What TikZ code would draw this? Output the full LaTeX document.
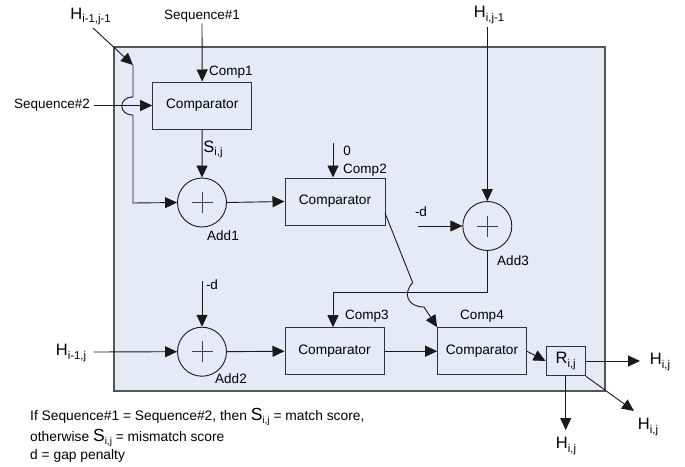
\documentclass[tikz,border=0pt]{standalone}
\usepackage{fontspec}
\setmainfont{Liberation Sans}
\usetikzlibrary{arrows.meta,calc}
\newcommand{\bigsub}[2]{{\fontsize{16.5}{18}\selectfont #1}\raisebox{-3.5pt}{\fontsize{11.3}{12}\selectfont #2}}
\newcommand{\midsub}[2]{{\fontsize{17.5}{18}\selectfont #1}\raisebox{-3pt}{\fontsize{10}{10.5}\selectfont #2}}
\definecolor{panelfill}{HTML}{E4EAF6}
\definecolor{panelline}{HTML}{555555}
\definecolor{boxline}{HTML}{333333}
\tikzset{
  sig/.style={draw=black!90,line width=0.9pt,-{Triangle[length=12pt,width=11pt]}},
  wire/.style={draw=black!90,line width=0.9pt},
  compbox/.style={draw=boxline,line width=1pt,fill=panelfill,minimum width=#1,minimum height=47pt,inner sep=0pt,font=\fontsize{13.7}{15}\selectfont},
  adder/.style={draw=black!90,line width=0.9pt,circle,minimum size=49pt,inner sep=0pt,
    path picture={\draw[black!75,line width=0.8pt] (path picture bounding box.center) +(-10.5pt,0) -- +(10.5pt,0) +(0,-10.5pt) -- +(0,10.5pt);}},
  tag/.style={inner sep=1pt,font=\fontsize{13.5}{15}\selectfont},
  notetag/.style={inner sep=0pt,anchor=west,font=\fontsize{13.8}{15}\selectfont}
}
\begin{document}
\begin{tikzpicture}[x=1pt,y=-1pt]
    \useasboundingbox (0,0) rectangle (685,466);
    \draw[panelline,line width=1.1pt,fill=panelfill] (114,47) rectangle (605,391);

    % blocks
    \node[compbox=99pt] (comp1) at (202.2,105.5) {Comparator};
    \node[compbox=100pt] (comp2) at (335,201.5) {Comparator};
    \node[compbox=99pt] (comp3) at (334.5,351.2) {Comparator};
    \node[compbox=88.6pt] (comp4) at (482,351.2) {Comparator};
    \node[draw=boxline,line width=1pt,fill=panelfill,minimum width=39.3pt,minimum height=29.4pt,inner sep=0pt] (rij) at (565.7,361) {\bigsub{R}{i,j}};
    \node[adder] (add1) at (202,202.5) {};
    \node[adder] (add2) at (202,351.7) {};
    \node[adder] (add3) at (487.3,226) {};

    % outside labels
    \node[tag] (seq1) at (202,16) {Sequence\#1};
    \node[tag] (seq2) at (52,105.5) {Sequence\#2};
    \node[inner sep=0pt] (hdiag) at (90.5,16.5) {\bigsub{H}{i-1,j-1}};
    \node[inner sep=0pt] (hleft) at (71,353) {\bigsub{H}{i-1,j}};
    \node[inner sep=0pt] (htop) at (489,15) {\bigsub{H}{i,j-1}};
    \node[inner sep=0pt] (hright) at (660,362) {\bigsub{H}{i,j}};
    \node[inner sep=0pt] (hdown) at (566,446) {\bigsub{H}{i,j}};
    \node[inner sep=0pt] (hcorner) at (648,427) {\bigsub{H}{i,j}};

    % block names
    \node[tag] (name1) at (231,72) {Comp1};
    \node[tag] (name2) at (365,170) {Comp2};
    \node[tag] (name3) at (367,316.5) {Comp3};
    \node[tag] (name4) at (482,316.5) {Comp4};
    \node[tag] (sum1) at (223,236) {Add1};
    \node[tag] (sum2) at (231,379) {Add2};
    \node[tag] (sum3) at (513,261) {Add3};
    \node[tag] (zero) at (347,151) {0};
    \node[tag] (gapa) at (212,285) {-d};
    \node[tag] (gapb) at (421,212) {-d};
    \node[inner sep=0pt] (score) at (213,149.5) {\bigsub{S}{i,j}};

    % free ends and bends
    \coordinate (hstart) at (93,28);
    \coordinate (hbend) at (133,65);
    \coordinate (jumpa) at (133,97);
    \coordinate (jumpb) at (133,115);
    \coordinate (hturn) at (133,203);
    \coordinate (seqout) at (94,105.5);
    \coordinate (zeroin) at (333,143);
    \coordinate (gapain) at (202,281);
    \coordinate (gapbin) at (418,226);
    \coordinate (hin) at (94,352);
    \coordinate (cout) at (385,213);
    \coordinate (jumpc) at (412.7,282.7);
    \coordinate (backa) at (487.3,292);
    \coordinate (backb) at (333,292);
    \coordinate (rightout) at (640,361);
    \coordinate (cornerout) at (634,411);
    \coordinate (downout) at (565.7,430);
    \coordinate (topin) at (487.3,27);

    % connectors
    \draw[sig] (hstart) -- (hbend);
    \draw[sig] (hbend) -- (jumpa) .. controls (118,97) and (118,115) .. (jumpb) -- (hturn) -- (add1.west);
    \draw[sig] (seqout) -- (comp1.west);
    \draw[sig] (seq1.south) -- (comp1.north);
    \draw[sig] (comp1.south) -- (add1.north);
    \draw[sig] (add1.east) -- (comp2.west);
    \draw[sig] (zeroin) -- (comp2.north -| zeroin);
    \draw[sig] (topin) -- (add3.north);
    \draw[sig] (gapbin) -- (add3.west);
    \draw[sig] (gapain) -- (add2.north);
    \draw[sig] (hin) -- (add2.west);
    \draw[sig] (add2.east) -- (comp3.west);
    \draw[sig] (add3.south) -- (backa) -- (backb) -- (comp3.north -| backb);
    \draw[wire] (cout) -- (jumpc);
    \draw[sig] (jumpc) .. controls (402,294) and (408,307) .. (424,307) -- (comp4.north west);
    \draw[sig] (comp3.east) -- (comp4.west);
    \draw[sig] (comp4.east) -- (rij.west);
    \draw[sig] (rij.east) -- (rightout);
    \draw[sig] (rij.south) -- (downout);
    \draw[sig] (rij.south east) -- (cornerout);

    % notes
    \node[notetag] (note1) at (30,417) {If Sequence\#1 = Sequence\#2, then \midsub{S}{i,j} = match score,};
    \node[notetag] (note2) at (30,438) {otherwise \midsub{S}{i,j} = mismatch score};
    \node[notetag] (note3) at (30,456) {d = gap penalty};
\end{tikzpicture}
\end{document}
